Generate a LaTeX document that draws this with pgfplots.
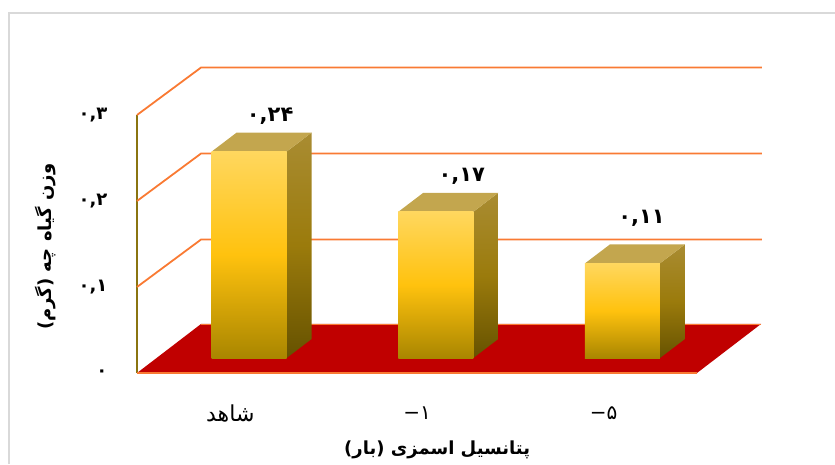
\documentclass[border=0pt]{standalone}
\usepackage{pgfplots}
\usepackage{fontspec}
\pgfplotsset{compat=1.18}
\TeXXeTstate=1
\newfontfamily\fa[Script=Arabic]{DejaVu Sans}
\newfontfamily\lat{DejaVu Sans}
\definecolor{wallline}{HTML}{F97A33}
\definecolor{floorred}{HTML}{C00000}
\definecolor{axisolive}{HTML}{8A7410}
\definecolor{framegray}{HTML}{D9D9D9}
\definecolor{faceTop}{HTML}{FFD75E}
\definecolor{faceMid}{HTML}{FFC20E}
\definecolor{faceLow}{HTML}{A98600}
\definecolor{sideTop}{HTML}{A98C32}
\definecolor{sideMid}{HTML}{9B7B0C}
\definecolor{sideLow}{HTML}{665200}
\definecolor{capface}{HTML}{C3A64E}

\pgfplotsset{
  sidefacestyle/.style={draw=none,xshift=18.8pt,yshift=15pt,
    top color=sideTop,bottom color=sideLow,middle color=sideMid},
  capfacestyle/.style={fill=capface,draw=none,xshift=18.8pt,yshift=15pt},
  frontfacestyle/.style={ybar,bar width=75pt,bar shift=0pt,draw=none,xshift=18.8pt,yshift=15pt,
    top color=faceTop,bottom color=faceLow,middle color=faceMid},
  walllinestyle/.style={wallline,line width=1.8pt},
  valuelabel/.style 2 args={every node near coord/.append style={
    font=\fa\bfseries\fontsize{21}{21}\selectfont,text=black,
    xshift=#1pt,yshift=#2pt,shade=false,fill=none,draw=none,
    top color=white,bottom color=white,fill opacity=0,text opacity=1}},
}

\begin{document}
\begin{tikzpicture}
\useasboundingbox (0,0) rectangle (835pt,464pt);
\draw[framegray,line width=1.2pt] (9pt,0) -- (9pt,451pt) -- (835pt,451pt);
\begin{axis}[
  at={(137pt,91pt)},anchor=south west,
  scale only axis,width=560pt,height=258pt,
  xmin=-0.5,xmax=2.5,ymin=0,ymax=0.3,
  clip=false,
  axis x line=bottom,axis y line=left,
  x axis line style={draw=none,-},
  y axis line style={draw=axisolive,line width=1.6pt,-},
  major tick length=0pt,
  xtick={0,1,2},
  ytick={0,0.1,0.2,0.3},
  xticklabels={{\fontsize{22}{22}\selectfont\beginR شاهد\endR},{\lat −}{۱},{\lat −}{۵}},
  yticklabels={{۰},{۰,۱},{۰,۲},{۰,۳}},
  xticklabel style={font=\fa\fontsize{20}{20}\selectfont,anchor=center,yshift=-40pt},
  yticklabel style={font=\fa\bfseries\fontsize{18}{18}\selectfont,xshift=-26pt},
  xlabel={\beginR پتانسیل اسمزی (بار)\endR},
  ylabel={\beginR وزن گیاه چه (گرم)\endR},
  x label style={font=\fa\bfseries\fontsize{18}{18}\selectfont,at={(axis description cs:0.536,-0.298)},anchor=center},
  y label style={font=\fa\bfseries\fontsize{18}{18}\selectfont,at={(axis description cs:-0.164,0.49)},anchor=center},
]
% back wall lines, running from the front axis to the rear plane
\addplot[walllinestyle] coordinates {(-0.5,0.3)(-0.157,0.3552)(2.848,0.3552)};
\addplot[walllinestyle] coordinates {(-0.5,0.2)(-0.157,0.2552)(2.848,0.2552)};
\addplot[walllinestyle] coordinates {(-0.5,0.1)(-0.157,0.1552)(2.848,0.1552)};
% floor
\addplot[fill=floorred,draw=none] coordinates {(-0.5,0)(-0.157,0.0570)(2.843,0.0570)(2.5,0)} -- cycle;
\addplot[wallline,line width=0.9pt] coordinates {(-0.157,0.0570)(2.843,0.0570)};
\addplot[wallline,line width=1.1pt] coordinates {(-0.5,0)(2.5,0)};

% side faces of the bars
\addplot[sidefacestyle] coordinates {(0.2009,0)(0.3348,0.0221)(0.3348,0.2621)(0.2009,0.24)} -- cycle;
\addplot[sidefacestyle] coordinates {(1.2009,0)(1.3348,0.0221)(1.3348,0.1921)(1.2009,0.17)} -- cycle;
\addplot[sidefacestyle] coordinates {(2.2009,0)(2.3348,0.0221)(2.3348,0.1321)(2.2009,0.11)} -- cycle;
% top faces of the bars
\addplot[capfacestyle] coordinates {(-0.2009,0.24)(-0.0670,0.2621)(0.3348,0.2621)(0.2009,0.24)} -- cycle;
\addplot[capfacestyle] coordinates {(0.7991,0.17)(0.9330,0.1921)(1.3348,0.1921)(1.2009,0.17)} -- cycle;
\addplot[capfacestyle] coordinates {(1.7991,0.11)(1.9330,0.1321)(2.3348,0.1321)(2.2009,0.11)} -- cycle;
% front faces of the bars, each with its value label
\addplot[frontfacestyle,nodes near coords={۰,۲۴},valuelabel={21}{24}] coordinates {(0,0.24)};
\addplot[frontfacestyle,nodes near coords={۰,۱۷},valuelabel={26}{24}] coordinates {(1,0.17)};
\addplot[frontfacestyle,nodes near coords={۰,۱۱},valuelabel={19}{33}] coordinates {(2,0.11)};
\end{axis}
\end{tikzpicture}
\end{document}
